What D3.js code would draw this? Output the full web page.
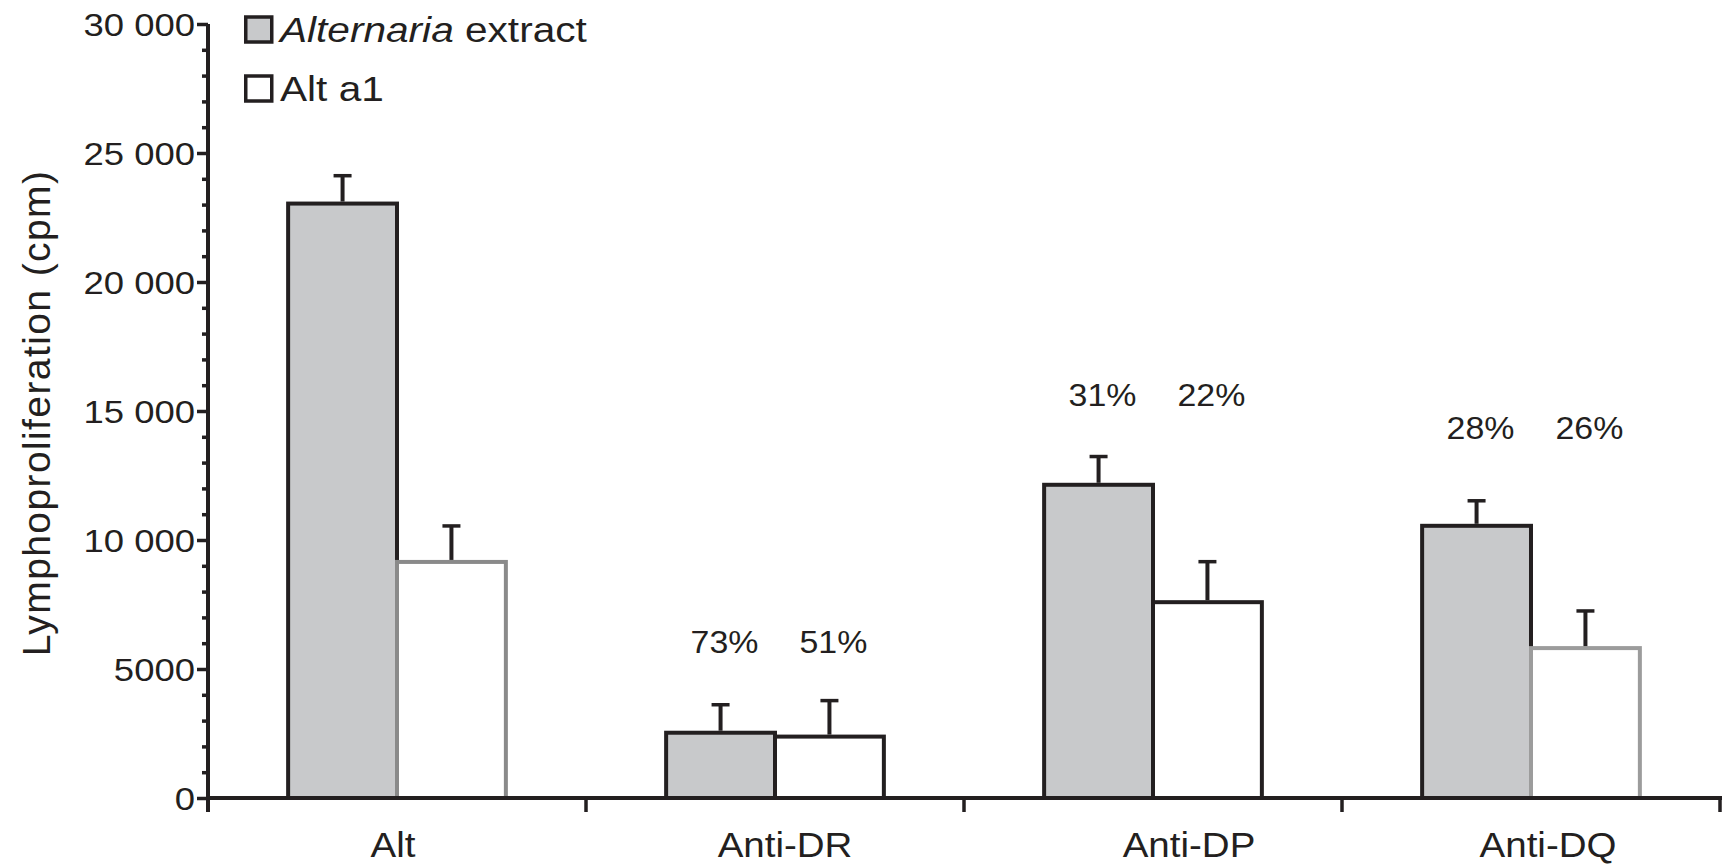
<!DOCTYPE html>
<html>
<head>
<meta charset="utf-8">
<script src="https://cdn.jsdelivr.net/npm/d3@7/dist/d3.min.js"></script>
<style>
  html, body { margin: 0; padding: 0; background: #fff; }
  svg { display: block; }
  text { font-family: "Liberation Sans", Arial, Helvetica, sans-serif; fill: #231f20; }
</style>
</head>
<body>
<svg id="chart" width="1722" height="866"></svg>
<script>
// Lymphoproliferation (cpm) after HLA class II blocking
const categories = ["Alt", "Anti-DR", "Anti-DP", "Anti-DQ"];
const seriesNames = ["Alternaria extract", "Alt a1"];

const extractMean = [23040, 2530, 12140, 10550];
const extractErr  = [1080, 1085, 1095, 970];
const altA1Mean   = [9150, 2380, 7590, 5810];
const altA1Err    = [1395, 1395, 1570, 1440];

// percentage inhibition written above each blocked pair
const extractInhibition = [null, "73%", "31%", "28%"];
const altA1Inhibition   = [null, "51%", "22%", "26%"];
// height (cpm) at which each pair of percentages sits
const inhibitionLevel   = [null, 5620, 15190, 13910];

const yTickValues = [0, 5000, 10000, 15000, 20000, 25000, 30000];
const yTickLabels = ["0", "5000", "10 000", "15 000", "20 000", "25 000", "30 000"];
const yMinorStep = 1000;

const dark = "#231f20";
const greyFill = "#c8c9cb";

const svg = d3.select("#chart");
const plotLeft = 208, plotRight = 1720, plotTop = 24, plotBottom = 798;

const y = d3.scaleLinear().domain([0, 30000]).range([plotBottom, plotTop]);
const x0 = d3.scaleBand().domain(categories).range([plotLeft, plotRight]).padding(0);
const bw = x0.bandwidth();
const x1 = d3.scaleBand().domain(seriesNames).range([0, bw]).paddingInner(0).paddingOuter(0.736);

const rows = categories.map((c, i) => ({
  cat: c, i,
  vals: [
    { s: seriesNames[0], v: extractMean[i], e: extractErr[i], pct: extractInhibition[i] },
    { s: seriesNames[1], v: altA1Mean[i], e: altA1Err[i], pct: altA1Inhibition[i] }
  ]
}));

// outline tone of each open (Alt a1) bar
const openOutline = ["#8a8a8a", dark, dark, "#9c9c9c"];

// ---- y axis: minor ticks, then major ticks with labels
const minorVals = d3.range(0, 30001, yMinorStep).filter(v => v % 5000 !== 0);
svg.append("g")
  .attr("transform", `translate(${plotLeft},0)`)
  .call(d3.axisLeft(y).tickValues(minorVals).tickSize(6).tickFormat(""))
  .call(g => g.select(".domain").remove())
  .call(g => g.selectAll("line").attr("stroke", dark).attr("stroke-width", 3.5));

const yAxis = svg.append("g")
  .attr("transform", `translate(${plotLeft},0)`)
  .call(d3.axisLeft(y).tickValues(yTickValues).tickSize(11).tickSizeOuter(0)
    .tickFormat((d, i) => yTickLabels[i]));
yAxis.select(".domain").attr("stroke", dark).attr("stroke-width", 4)
  .attr("d", `M0,${plotTop}V${plotBottom + 14}`);
yAxis.selectAll("line").attr("stroke", dark).attr("stroke-width", 3.5);
yAxis.selectAll("text")
  .attr("x", null).attr("y", null)
  .attr("transform", "translate(-13,0) scale(1.14,1)")
  .attr("dy", "0.36em")
  .style("font-size", "32px").style("text-anchor", "end").style("fill", dark);

// ---- bars: filled extract bars first, open Alt a1 bars drawn over the shared edge
const groups = svg.append("g").selectAll("g").data(rows).join("g")
  .attr("transform", d => `translate(${x0(d.cat)},0)`);

groups.append("rect")
  .attr("x", d => x1(seriesNames[0]))
  .attr("y", d => y(d.vals[0].v))
  .attr("width", x1.bandwidth())
  .attr("height", d => y(0) - y(d.vals[0].v))
  .attr("fill", greyFill).attr("stroke", dark).attr("stroke-width", 4);

groups.append("rect")
  .attr("x", d => x1(seriesNames[1]))
  .attr("y", d => y(d.vals[1].v))
  .attr("width", x1.bandwidth())
  .attr("height", d => y(0) - y(d.vals[1].v))
  .attr("fill", "#fff").attr("stroke", d => openOutline[d.i]).attr("stroke-width", 4);

// ---- upper error bars
groups.selectAll("g.err").data(d => d.vals).join("g").attr("class", "err")
  .each(function (d) {
    const g = d3.select(this);
    const cx = x1(d.s) + x1.bandwidth() / 2;
    g.append("line").attr("x1", cx).attr("x2", cx)
      .attr("y1", y(d.v) - 2).attr("y2", y(d.v + d.e))
      .attr("stroke", dark).attr("stroke-width", 4);
    g.append("line").attr("x1", cx - 9).attr("x2", cx + 9)
      .attr("y1", y(d.v + d.e)).attr("y2", y(d.v + d.e))
      .attr("stroke", dark).attr("stroke-width", 3.5);
  });

// ---- inhibition percentages
groups.filter(d => inhibitionLevel[d.i] != null)
  .selectAll("text.pct").data(d => d.vals.map(v => ({ ...v, lvl: inhibitionLevel[d.i] })))
  .join("text").attr("class", "pct")
  .attr("transform", d => `translate(${x1(d.s) + x1.bandwidth() / 2 + 4},${y(d.lvl)}) scale(1.06,1)`)
  .attr("text-anchor", "middle")
  .style("font-size", "32px")
  .text(d => d.pct);

// ---- x axis baseline, boundary ticks and category names
svg.append("line").attr("x1", plotLeft - 2).attr("x2", plotRight + 2)
  .attr("y1", y(0)).attr("y2", y(0)).attr("stroke", dark).attr("stroke-width", 4);
const bounds = categories.map(c => x0(c)).concat([plotRight]);
svg.append("g").selectAll("line").data(bounds.slice(1)).join("line")
  .attr("x1", d => d).attr("x2", d => d)
  .attr("y1", y(0)).attr("y2", y(0) + 14)
  .attr("stroke", dark).attr("stroke-width", 3.5);

const nameNudge = [-4, 10, 36, 17];
svg.append("g").selectAll("text").data(categories).join("text")
  .attr("transform", (d, i) => `translate(${x0(d) + bw / 2 + nameNudge[i]},857) scale(1.1,1)`)
  .attr("text-anchor", "middle")
  .style("font-size", "35px")
  .text(d => d);

// ---- y axis title
svg.append("text")
  .attr("transform", `translate(50,${(173 + 653) / 2}) rotate(-90)`)
  .attr("text-anchor", "middle")
  .style("font-size", "39px")
  .style("letter-spacing", "1.4px")
  .text("Lymphoproliferation (cpm)");

// ---- legend
const legend = svg.append("g").attr("transform", "translate(244,0)");
const legendRows = [
  { fill: greyFill, base: 42, parts: [["Alternaria", "italic"], [" extract", "normal"]] },
  { fill: "#fff", base: 101, parts: [["Alt a1", "normal"]] }
];
legendRows.forEach(r => {
  legend.append("rect").attr("x", 1.75).attr("y", r.base - 25)
    .attr("width", 26).attr("height", 25)
    .attr("fill", r.fill).attr("stroke", dark).attr("stroke-width", 3.5);
  const t = legend.append("text")
    .attr("transform", `translate(36,${r.base}) scale(1.16,1)`)
    .style("font-size", "35px");
  r.parts.forEach(p => t.append("tspan").style("font-style", p[1]).text(p[0]));
});
</script>
</body>
</html>
